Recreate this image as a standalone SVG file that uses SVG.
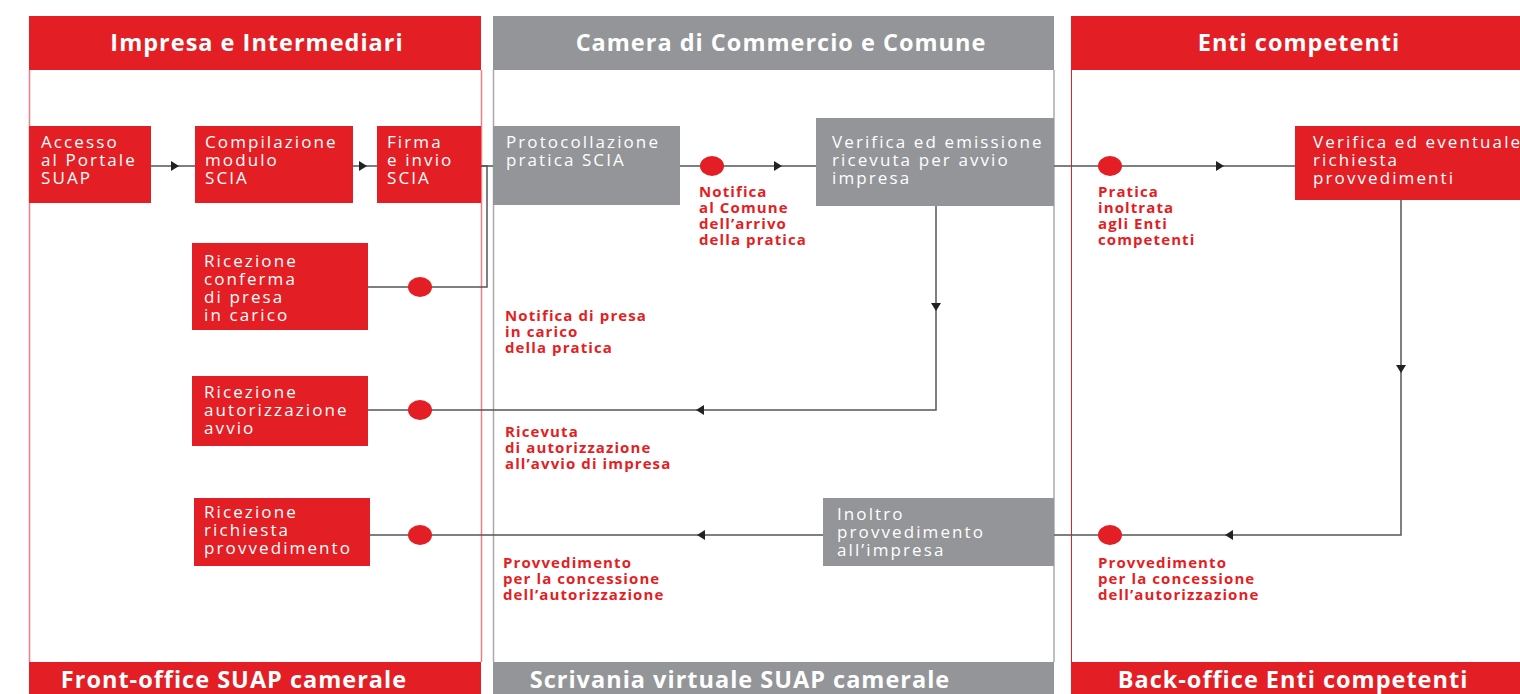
<svg xmlns="http://www.w3.org/2000/svg" width="1520" height="694" viewBox="0 0 1520 694">
<style>
.hdr{font-family:"Open Sans","Liberation Sans",sans-serif;font-weight:bold;font-size:23.5px;letter-spacing:1px;fill:#fff;text-anchor:middle}
.nt{font-family:"Open Sans","Liberation Sans",sans-serif;font-size:17px;letter-spacing:2.1px;fill:#fff}
.lb{font-family:"Open Sans","Liberation Sans",sans-serif;font-weight:bold;font-size:15px;letter-spacing:1.1px;fill:#e31e24}
.red{fill:#e31e24}
.gray{fill:#939598}
.ln{fill:none;stroke:#555;stroke-width:1.5}
.dot{fill:#e31e24}
.ah{fill:#222}
</style>
<defs>
<path id="ar" d="M-4,-5 L4,0 L-4,5 Z" class="ah"/>
</defs>
<rect width="1520" height="694" fill="#fff"/>
<g id="lanes">
<line x1="29.5" y1="70" x2="29.5" y2="662" stroke="#ee7f84" stroke-width="1.5"/>
<line x1="481.5" y1="70" x2="481.5" y2="662" stroke="#ee7f84" stroke-width="1.5"/>
<line x1="493.5" y1="70" x2="493.5" y2="662" stroke="#aaa" stroke-width="1.5"/>
<line x1="1054" y1="70" x2="1054" y2="662" stroke="#aaa" stroke-width="1.5"/>
<line x1="1071.5" y1="70" x2="1071.5" y2="662" stroke="#e31e24" stroke-width="1"/>
<rect x="29" y="16" width="452" height="54" class="red"/>
<text x="257" y="51" class="hdr">Impresa e Intermediari</text>
<rect x="493" y="16" width="561" height="54" class="gray"/>
<text x="781" y="51" class="hdr">Camera di Commercio e Comune</text>
<rect x="1071" y="16" width="449" height="54" class="red"/>
<text x="1299" y="51" class="hdr">Enti competenti</text>
<rect x="29" y="662" width="452" height="32" class="red"/>
<text x="234" y="688" class="hdr">Front-office SUAP camerale</text>
<rect x="493" y="662" width="561" height="32" class="gray"/>
<text x="740" y="688" class="hdr">Scrivania virtuale SUAP camerale</text>
<rect x="1071" y="662" width="449" height="32" class="red"/>
<text x="1293" y="688" class="hdr">Back-office Enti competenti</text>
</g>
<g id="connectors">
<line x1="151" y1="166" x2="195" y2="166" class="ln"/>
<use href="#ar" x="175" y="166"/>
<line x1="353" y1="166" x2="377" y2="166" class="ln"/>
<use href="#ar" x="363" y="166"/>
<line x1="481" y1="166" x2="493" y2="166" class="ln"/>
<polyline points="481,166 487,166 487,287 368,287" class="ln"/>
<ellipse cx="420" cy="287" rx="12" ry="10" class="dot"/>
<line x1="680" y1="166" x2="816" y2="166" class="ln"/>
<ellipse cx="712" cy="166" rx="12" ry="10" class="dot"/>
<use href="#ar" x="778" y="166"/>
<line x1="1054" y1="166" x2="1295" y2="166" class="ln"/>
<ellipse cx="1110" cy="166" rx="12" ry="10" class="dot"/>
<use href="#ar" x="1220" y="166"/>
<polyline points="936,206 936,410 368,410" class="ln"/>
<use href="#ar" x="936" y="307" transform="rotate(90 936 307)"/>
<use href="#ar" x="700" y="410" transform="rotate(180 700 410)"/>
<ellipse cx="420" cy="410" rx="12" ry="10" class="dot"/>
<polyline points="1401,200 1401,535 1054,535" class="ln"/>
<use href="#ar" x="1401" y="369" transform="rotate(90 1401 369)"/>
<use href="#ar" x="1229" y="535" transform="rotate(180 1229 535)"/>
<ellipse cx="1110" cy="535" rx="12" ry="10" class="dot"/>
<line x1="823" y1="535" x2="370" y2="535" class="ln"/>
<use href="#ar" x="701" y="535" transform="rotate(180 701 535)"/>
<ellipse cx="420" cy="535" rx="12" ry="10" class="dot"/>
</g>
<g id="n-accesso">
<rect x="29" y="126" width="122" height="77" class="red"/>
<text class="nt"><tspan x="41" y="148">Accesso</tspan><tspan x="41" y="166">al Portale</tspan><tspan x="41" y="184">SUAP</tspan></text>
</g>
<g id="n-compilazione">
<rect x="195" y="126" width="158" height="77" class="red"/>
<text class="nt"><tspan x="205" y="148">Compilazione</tspan><tspan x="205" y="166">modulo</tspan><tspan x="205" y="184">SCIA</tspan></text>
</g>
<g id="n-firma">
<rect x="377" y="126" width="104" height="77" class="red"/>
<text class="nt"><tspan x="387" y="148">Firma</tspan><tspan x="387" y="166">e invio</tspan><tspan x="387" y="184">SCIA</tspan></text>
</g>
<g id="n-protocollazione">
<rect x="493" y="126" width="187" height="79" class="gray"/>
<text class="nt"><tspan x="506" y="148">Protocollazione</tspan><tspan x="506" y="166">pratica SCIA</tspan></text>
</g>
<g id="n-verifica-emissione">
<rect x="816" y="118" width="238" height="88" class="gray"/>
<text class="nt"><tspan x="832" y="148">Verifica ed emissione</tspan><tspan x="832" y="166">ricevuta per avvio</tspan><tspan x="832" y="184">impresa</tspan></text>
</g>
<g id="n-verifica-eventuale">
<rect x="1295" y="126" width="225" height="74" class="red"/>
<text class="nt"><tspan x="1313" y="148">Verifica ed eventuale</tspan><tspan x="1313" y="166">richiesta</tspan><tspan x="1313" y="184">provvedimenti</tspan></text>
</g>
<g id="n-conferma">
<rect x="192" y="243" width="176" height="87" class="red"/>
<text class="nt"><tspan x="204" y="267">Ricezione</tspan><tspan x="204" y="285">conferma</tspan><tspan x="204" y="303">di presa</tspan><tspan x="204" y="321">in carico</tspan></text>
</g>
<g id="n-autorizzazione">
<rect x="192" y="376" width="176" height="70" class="red"/>
<text class="nt"><tspan x="204" y="398">Ricezione</tspan><tspan x="204" y="416">autorizzazione</tspan><tspan x="204" y="434">avvio</tspan></text>
</g>
<g id="n-richiesta">
<rect x="194" y="498" width="176" height="68" class="red"/>
<text class="nt"><tspan x="204" y="518">Ricezione</tspan><tspan x="204" y="536">richiesta</tspan><tspan x="204" y="554">provvedimento</tspan></text>
</g>
<g id="n-inoltro">
<rect x="823" y="498" width="231" height="68" class="gray"/>
<text class="nt"><tspan x="837" y="520">Inoltro</tspan><tspan x="837" y="538">provvedimento</tspan><tspan x="837" y="556">all’impresa</tspan></text>
</g>
<g id="labels">
<text class="lb"><tspan x="699" y="197">Notifica</tspan><tspan x="699" y="213">al Comune</tspan><tspan x="699" y="229">dell’arrivo</tspan><tspan x="699" y="245">della pratica</tspan></text>
<text class="lb"><tspan x="1098" y="197">Pratica</tspan><tspan x="1098" y="213">inoltrata</tspan><tspan x="1098" y="229">agli Enti</tspan><tspan x="1098" y="245">competenti</tspan></text>
<text class="lb"><tspan x="505" y="321">Notifica di presa</tspan><tspan x="505" y="337">in carico</tspan><tspan x="505" y="353">della pratica</tspan></text>
<text class="lb"><tspan x="505" y="437">Ricevuta</tspan><tspan x="505" y="453">di autorizzazione</tspan><tspan x="505" y="469">all’avvio di impresa</tspan></text>
<text class="lb"><tspan x="503" y="568">Provvedimento</tspan><tspan x="503" y="584">per la concessione</tspan><tspan x="503" y="600">dell’autorizzazione</tspan></text>
<text class="lb"><tspan x="1098" y="568">Provvedimento</tspan><tspan x="1098" y="584">per la concessione</tspan><tspan x="1098" y="600">dell’autorizzazione</tspan></text>
</g>
</svg>
